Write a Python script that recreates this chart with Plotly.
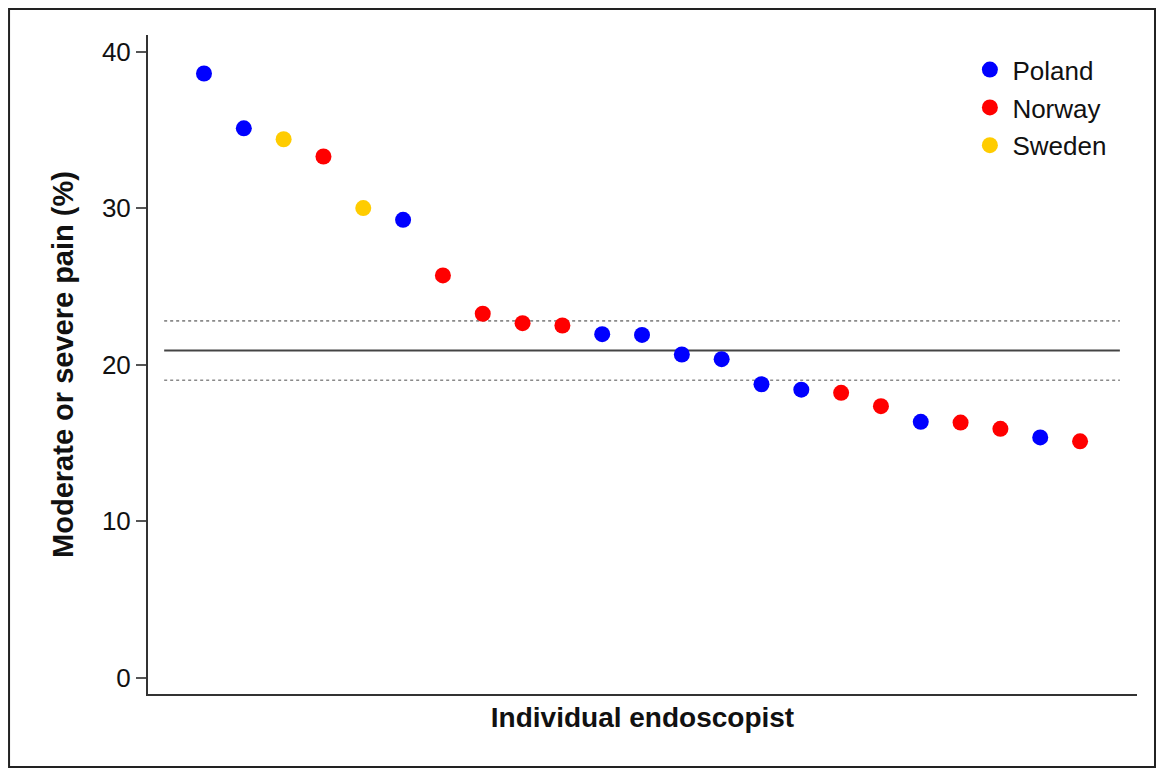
import plotly.graph_objects as go

# Data
endoscopists = list(range(1, 24))
pain_pct = [38.6, 35.1, 34.4, 33.3, 30.0, 29.25, 25.7, 23.25, 22.65, 22.5, 21.95, 21.9,
            20.65, 20.35, 18.75, 18.4, 18.2, 17.35, 16.35, 16.3, 15.9, 15.35, 15.1]
country = ["Poland", "Poland", "Sweden", "Norway", "Sweden", "Poland", "Norway", "Norway",
           "Norway", "Norway", "Poland", "Poland", "Poland", "Poland", "Poland", "Poland",
           "Norway", "Norway", "Poland", "Norway", "Norway", "Poland", "Norway"]
countries = ["Poland", "Norway", "Sweden"]
colors = {"Poland": "#0000FF", "Norway": "#FF0000", "Sweden": "#FFCC00"}

overall_mean = 20.9
ci_upper = 22.8
ci_lower = 19.0
line_x = [0, 24]

FONT = "Liberation Sans, Arial, Helvetica, sans-serif"

fig = go.Figure()

fig.add_trace(go.Scatter(x=line_x, y=[ci_upper, ci_upper], mode="lines",
                         line=dict(color="#8a8a8a", width=1.6, dash="dot"),
                         showlegend=False, hoverinfo="skip"))
fig.add_trace(go.Scatter(x=line_x, y=[ci_lower, ci_lower], mode="lines",
                         line=dict(color="#8a8a8a", width=1.6, dash="dot"),
                         showlegend=False, hoverinfo="skip"))
fig.add_trace(go.Scatter(x=line_x, y=[overall_mean, overall_mean], mode="lines",
                         line=dict(color="#444444", width=2),
                         showlegend=False, hoverinfo="skip"))

for c in countries:
    xs = [x for x, cc in zip(endoscopists, country) if cc == c]
    ys = [y for y, cc in zip(pain_pct, country) if cc == c]
    fig.add_trace(go.Scatter(x=xs, y=ys, mode="markers", name=c, legendgroup=c,
                             marker=dict(color=colors[c], size=16, line=dict(width=0))))

fig.update_layout(
    width=1149, height=761,
    margin=dict(l=140, r=20, t=27, b=75),
    paper_bgcolor="white", plot_bgcolor="white",
    font=dict(family=FONT, size=26, color="#111111"),
    xaxis=dict(range=[-0.406, 24.43], showticklabels=False, ticks="", showgrid=False,
               zeroline=False, showline=True, linecolor="#333333", linewidth=2,
               title=dict(text="<b>Individual endoscopist</b>", font=dict(size=28), standoff=12)),
    yaxis=dict(range=[-1.04, 41.06], tickvals=[0, 10, 20, 30, 40], ticks="outside",
               ticklen=10, tickwidth=2, tickcolor="#555555", showgrid=False, zeroline=False,
               showline=True, linecolor="#333333", linewidth=2,
               tickfont=dict(size=26),
               title=dict(text="<b>Moderate or severe pain (%)</b>", font=dict(size=29), standoff=20)),
    legend=dict(x=0.8285, y=0.983, xanchor="left", yanchor="top", font=dict(size=26),
                bgcolor="rgba(0,0,0,0)", itemsizing="trace", itemwidth=35, tracegroupgap=1),
    shapes=[dict(type="rect", xref="paper", yref="paper",
                 x0=-0.1405, x1=1.0182, y0=-0.1108, y1=1.0395,
                 line=dict(color="#222222", width=2), fillcolor="rgba(0,0,0,0)")],
)

fig.write_html("out.html")
